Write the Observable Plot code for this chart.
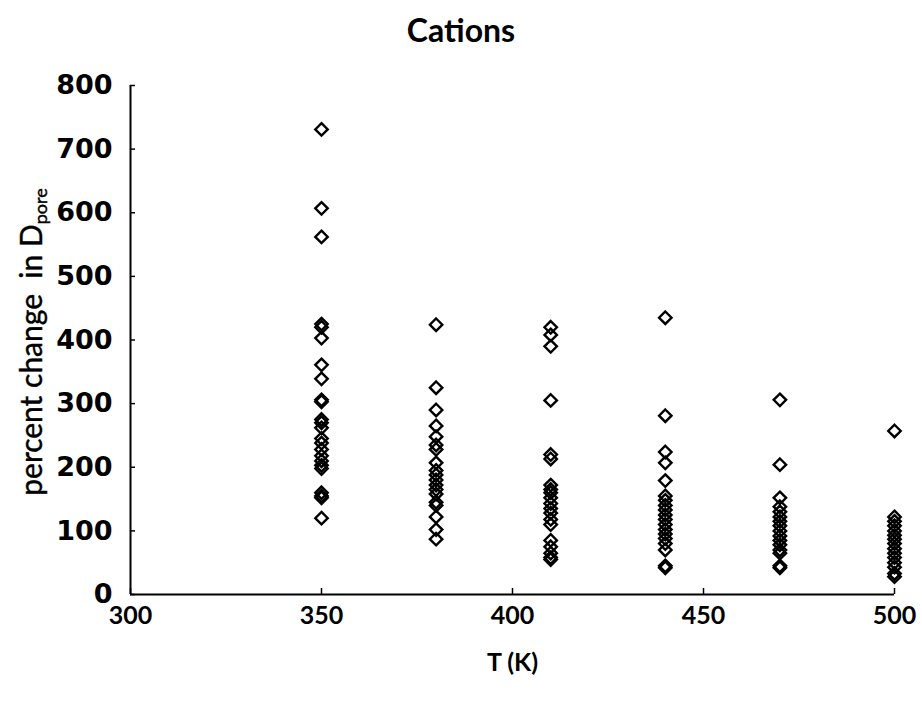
<!DOCTYPE html>
<html>
<head>
<meta charset="utf-8">
<script src="https://cdn.jsdelivr.net/npm/d3@7"></script>
<script src="https://cdn.jsdelivr.net/npm/@observablehq/plot@0.6"></script>
<style>
  body { margin: 0; background: #fff; }
  #title { height: 60px; width: 922px; text-align: center; font: bold 32px Lato, sans-serif; line-height: 60px; color: #000; }
</style>
</head>
<body>
<div id="title">Cations</div>
<div id="chart"></div>
<script>
const temps = [350, 380, 410, 440, 470, 500];
const v350 = [731, 607, 562, 425, 420, 403, 361, 339, 306, 303, 275, 270, 262, 245, 238, 228, 218, 210, 203, 198, 160, 155, 152, 120];
const v380 = [424, 325, 290, 265, 248, 235, 228, 207, 195, 188, 180, 172, 165, 158, 145, 140, 122, 102, 87];
const v410 = [420, 408, 390, 305, 220, 213, 172, 165, 160, 152, 143, 135, 128, 118, 110, 85, 75, 65, 58, 55];
const v440 = [435, 281, 224, 207, 179, 155, 148, 140, 133, 125, 118, 110, 102, 95, 88, 80, 70, 45, 42];
const v470 = [306, 204, 152, 138, 130, 122, 115, 108, 100, 92, 85, 78, 70, 65, 45, 42];
const v500 = [257, 122, 115, 108, 100, 93, 87, 80, 72, 65, 58, 50, 43, 33, 28];
const xTicks = [300, 350, 400, 450, 500];
const yTicks = [0, 100, 200, 300, 400, 500, 600, 700, 800];

const series = [v350, v380, v410, v440, v470, v500];
const points = temps.flatMap((t, i) => series[i].map(v => ({T: t, p: v})));

const chart = Plot.plot({
  width: 922,
  height: 643,
  marginTop: 25,
  marginBottom: 109,
  marginLeft: 130,
  marginRight: 28,
  x: {domain: [300, 500]},
  y: {domain: [0, 800]},
  marks: [
    Plot.axisY({ticks: yTicks, tickSize: -5, tickPadding: 23, label: null,
      fontSize: 27, fontWeight: "bold", fontFamily: "DejaVu Sans", strokeWidth: 1.5, color: "#000"}),
    Plot.axisX({ticks: xTicks, tickSize: -6, tickPadding: 18, label: "T (K)", labelAnchor: "center", labelArrow: "none", labelOffset: 76,
      fontSize: 25, fontWeight: "bold", fontFamily: "Lato", strokeWidth: 1.5, color: "#000"}),
    Plot.ruleX([300], {stroke: "#000", strokeWidth: 2}),
    Plot.ruleY([0], {stroke: "#000", strokeWidth: 2}),
    Plot.dot(points, {x: "T", y: "p", symbol: "diamond2", r: 5.6, stroke: "#000", strokeWidth: 2.4, fill: "none"})
  ]
});
document.getElementById("chart").appendChild(chart);

// y-axis title with subscript
const svg = d3.select(chart);
const yt = svg.append("text")
  .attr("transform", "translate(42,282) rotate(-90)")
  .attr("text-anchor", "middle")
  .attr("font-family", "Lato, sans-serif")
  .attr("font-size", 30)
  .attr("fill", "#000")
  .attr("stroke", "#000")
  .attr("stroke-width", 0.4);
yt.append("tspan").text("percent change  in D");
yt.append("tspan").attr("font-size", 18).attr("baseline-shift", "-30%").text("pore");
</script>
</body>
</html>
